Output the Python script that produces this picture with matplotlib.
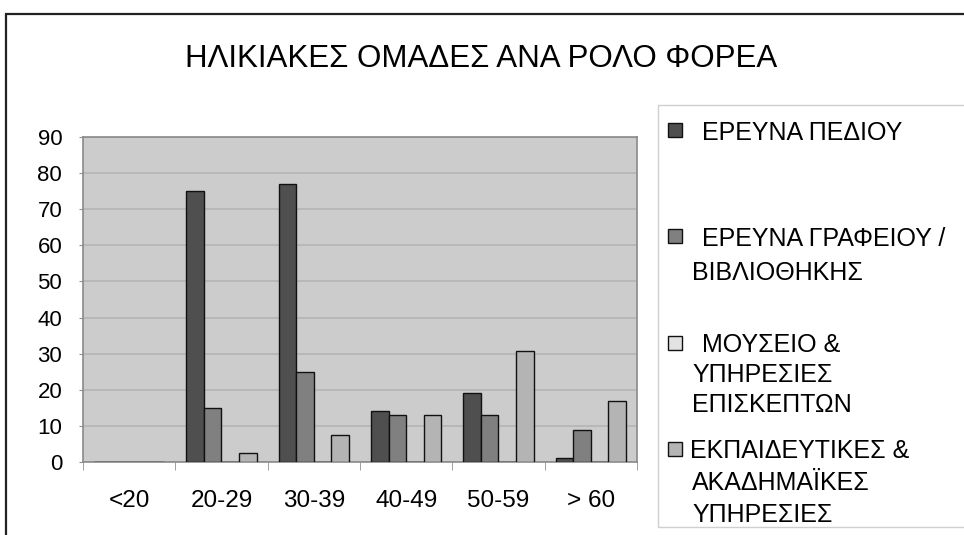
import matplotlib
matplotlib.use('Agg')
import matplotlib.pyplot as plt
from matplotlib.patches import Rectangle
import numpy as np

plt.rcParams['font.family'] = ['Liberation Sans', 'DejaVu Sans']

# data
categories = ['<20', '20-29', '30-39', '40-49', '50-59', '> 60']
series_names = ['ΕΡΕΥΝΑ ΠΕΔΙΟΥ',
                'ΕΡΕΥΝΑ ΓΡΑΦΕΙΟΥ /\nΒΙΒΛΙΟΘΗΚΗΣ',
                'ΜΟΥΣΕΙΟ &\nΥΠΗΡΕΣΙΕΣ\nΕΠΙΣΚΕΠΤΩΝ',
                'ΕΚΠΑΙΔΕΥΤΙΚΕΣ &\nΑΚΑΔΗΜΑΪΚΕΣ\nΥΠΗΡΕΣΙΕΣ']
field = [0, 75, 77, 14, 19, 1]
office = [0, 15, 25, 13, 13, 9]
museum = [0, 0, 0, 0, 0, 0]
education = [0, 2.4, 7.5, 13, 30.8, 16.9]
values = [field, office, museum, education]

colors = ['#4f4f4f', '#808080', '#e2e2e2', '#b4b4b4']

W, H = 964, 535
fig = plt.figure(figsize=(W / 100, H / 100), dpi=100)

# outer chart frame
fig.add_artist(Rectangle((6 / W, -0.05), 1.05, 1 - 14 / H + 0.05,
                         transform=fig.transFigure, fill=False,
                         edgecolor='#222222', lw=1.6))

ax = fig.add_axes([83 / W, (H - 462) / H, (637 - 83) / W, (462 - 137) / H])
ax.set_facecolor('#cccccc')

x = np.arange(len(categories))
bw = 0.19
offs = (np.arange(4) - 1.5) * bw
for i, vals in enumerate(values):
    ax.bar(x + offs[i], vals, bw, color=colors[i], edgecolor='#111111',
           linewidth=1.0, zorder=3)

ax.set_xlim(-0.5, len(categories) - 0.5)
ax.set_ylim(0, 90)
ax.set_yticks(np.arange(0, 91, 10))
ax.yaxis.grid(True, color='#b3b3b3', lw=1.1, zorder=0)
ax.set_axisbelow(True)

ax.set_xticks(x)
ax.set_xticklabels(categories)
ax.set_xticks(np.arange(-0.5, len(categories)), minor=True)
ax.tick_params(axis='x', which='major', length=0, pad=20, labelsize=17.5)
ax.tick_params(axis='x', which='minor', length=6, color='#909090', direction='out')
ax.tick_params(axis='y', length=3, color='#909090', pad=12, labelsize=16)

for s in ax.spines.values():
    s.set_color('#8a8a8a')
    s.set_linewidth(1.2)

fig.text(481 / W, 1 - 67 / H, 'ΗΛΙΚΙΑΚΕΣ ΟΜΑΔΕΣ ΑΝΑ ΡΟΛΟ ΦΟΡΕΑ',
         ha='center', va='baseline', fontsize=22.5)

# legend box
fig.add_artist(Rectangle((658 / W, 1 - 527 / H), 1.0, (527 - 105) / H,
                         transform=fig.transFigure, fill=False,
                         edgecolor='#cfcfcf', lw=1.0))
line_y = [[130], [236, 271], [343, 373, 403], [449, 481, 513]]
patch_x = [668, 668, 668, 668]
text_x = [702, 702, 702, 690]
for i, name in enumerate(series_names):
    ys = line_y[i]
    fig.add_artist(Rectangle((patch_x[i] / W, 1 - (ys[0] + 7) / H), 14 / W, 14 / H,
                             transform=fig.transFigure, facecolor=colors[i],
                             edgecolor='#111111', lw=1.0))
    for j, line in enumerate(name.split('\n')):
        xt = text_x[i] if j == 0 else 692
        fig.text(xt / W, 1 - ys[j] / H, line,
                 ha='left', va='center_baseline', fontsize=18)

fig.savefig('out.png', dpi=100)
